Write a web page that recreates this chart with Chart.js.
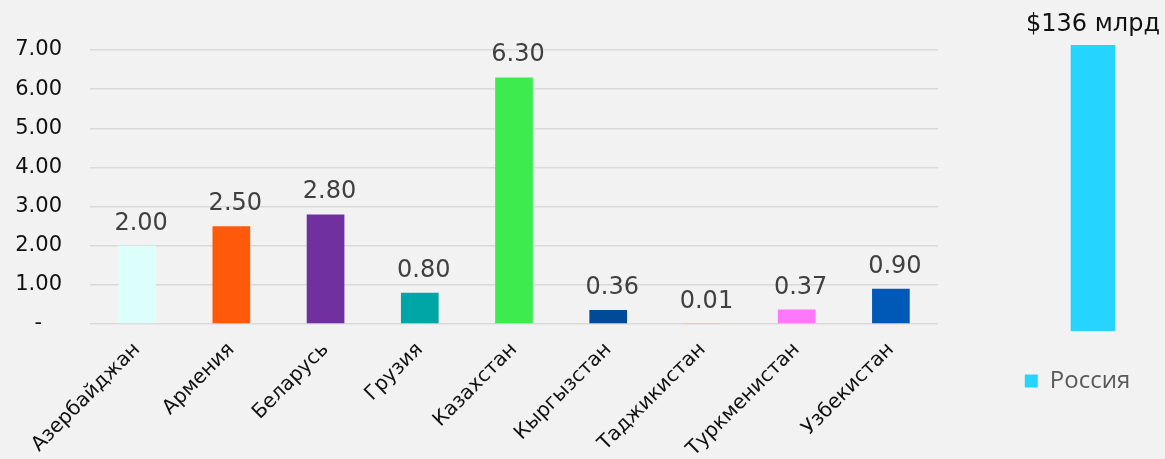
<!DOCTYPE html>
<html lang="ru">
<head>
    <meta charset="UTF-8">
    <meta name="viewport" content="width=device-width, initial-scale=1.0">
    <title>Переводы</title>
    <style>
        body {
            margin: 0;
            padding: 0;
            background-color: #f2f2f2;
            font-family: 'DejaVu Sans', sans-serif;
        }
        .wrap {
            position: relative;
            width: 1165px;
            height: 459px;
            overflow: hidden;
        }
        #mainBox {
            position: absolute;
            left: 0;
            top: 0;
            width: 960px;
            height: 459px;
        }
        #russiaBox {
            position: absolute;
            left: 990px;
            top: 0;
            width: 175px;
            height: 459px;
        }
    </style>
    <script src="https://cdn.jsdelivr.net/npm/chart.js"></script>
</head>
<body>
    <div class="wrap">
        <div id="mainBox"><canvas id="mainChart"></canvas></div>
        <div id="russiaBox"><canvas id="russiaChart"></canvas></div>
    </div>
    <script>
        // left panel: countries, values (bn $)
        const countries = ['Азербайджан', 'Армения', 'Беларусь', 'Грузия', 'Казахстан',
                           'Кыргызстан', 'Таджикистан', 'Туркменистан', 'Узбекистан'];
        const amounts = [2.00, 2.50, 2.80, 0.80, 6.30, 0.36, 0.01, 0.37, 0.90];
        const barColors = ['#ddfffb', '#ff5a0a', '#7030a0', '#00a6a6', '#3deb4f',
                           '#004a98', '#ffc000', '#ff77fa', '#0059b6'];
        const yMax = 7;
        const yStep = 1;

        // right panel: Russia on its own scale
        const russiaLabel = ['Россия'];
        const russiaAmount = [136];
        const russiaColor = ['#25d5ff'];

        // draws the number above every bar
        const valueLabels = {
            id: 'valueLabels',
            afterDatasetsDraw(chart, args, opts) {
                const ctx = chart.ctx;
                const values = chart.data.datasets[0].data;
                ctx.save();
                ctx.font = opts.size + 'px ' + opts.family;
                ctx.fillStyle = opts.color;
                ctx.textAlign = 'center';
                ctx.textBaseline = 'alphabetic';
                chart.getDatasetMeta(0).data.forEach((bar, i) => {
                    const text = opts.prefix + values[i].toFixed(opts.decimals) + opts.suffix;
                    ctx.fillText(text, bar.x + opts.shift, bar.y - opts.gap);
                });
                ctx.restore();
            }
        };

        new Chart(document.getElementById('mainChart'), {
            type: 'bar',
            data: {
                labels: countries,
                datasets: [{
                    data: amounts,
                    backgroundColor: barColors,
                    borderWidth: 0,
                    categoryPercentage: 1,
                    barPercentage: 0.4
                }]
            },
            options: {
                animation: false,
                responsive: true,
                maintainAspectRatio: false,
                layout: { padding: { top: 50, right: 22 } },
                scales: {
                    x: {
                        grid: { display: false, drawTicks: false },
                        border: { display: false },
                        ticks: {
                            autoSkip: false,
                            minRotation: 45,
                            maxRotation: 45,
                            padding: 14,
                            color: '#111',
                            font: { family: 'DejaVu Sans', size: 20 }
                        },
                        afterFit: scale => { scale.height = 135; }
                    },
                    y: {
                        min: 0,
                        max: yMax,
                        grid: { color: '#d9d9d9', lineWidth: 1.5, drawTicks: false },
                        border: { display: false },
                        ticks: {
                            stepSize: yStep,
                            padding: 28,
                            color: '#111',
                            font: { family: 'DejaVu Sans', size: 21 },
                            callback: v => v === 0 ? '-   ' : v.toFixed(2)
                        },
                        afterFit: scale => { scale.width = 90; }
                    }
                },
                plugins: {
                    legend: { display: false },
                    tooltip: { enabled: false },
                    valueLabels: {
                        family: 'DejaVu Sans', size: 24, color: '#404040',
                        gap: 16, shift: 4, decimals: 2, prefix: '', suffix: ''
                    }
                }
            },
            plugins: [valueLabels]
        });

        new Chart(document.getElementById('russiaChart'), {
            type: 'bar',
            data: {
                labels: russiaLabel,
                datasets: [{
                    label: 'Россия',
                    data: russiaAmount,
                    backgroundColor: russiaColor,
                    borderWidth: 0,
                    barThickness: 44
                }]
            },
            options: {
                animation: false,
                responsive: true,
                maintainAspectRatio: false,
                layout: { padding: { top: 45, bottom: 56 } },
                scales: {
                    x: { display: false },
                    y: {
                        min: 0,
                        max: russiaAmount[0],
                        grid: { display: false },
                        border: { display: false },
                        ticks: { display: false },
                        afterFit: scale => { scale.width = 31; }
                    }
                },
                plugins: {
                    legend: {
                        position: 'bottom',
                        labels: {
                            boxWidth: 13,
                            boxHeight: 13,
                            padding: 38,
                            color: '#595959',
                            font: { family: 'Open Sans', size: 24 }
                        }
                    },
                    tooltip: { enabled: false },
                    valueLabels: {
                        family: 'DejaVu Sans', size: 24, color: '#111',
                        gap: 14, shift: 0, decimals: 0, prefix: '$', suffix: ' млрд'
                    }
                }
            },
            plugins: [valueLabels]
        });
    </script>
</body>
</html>
